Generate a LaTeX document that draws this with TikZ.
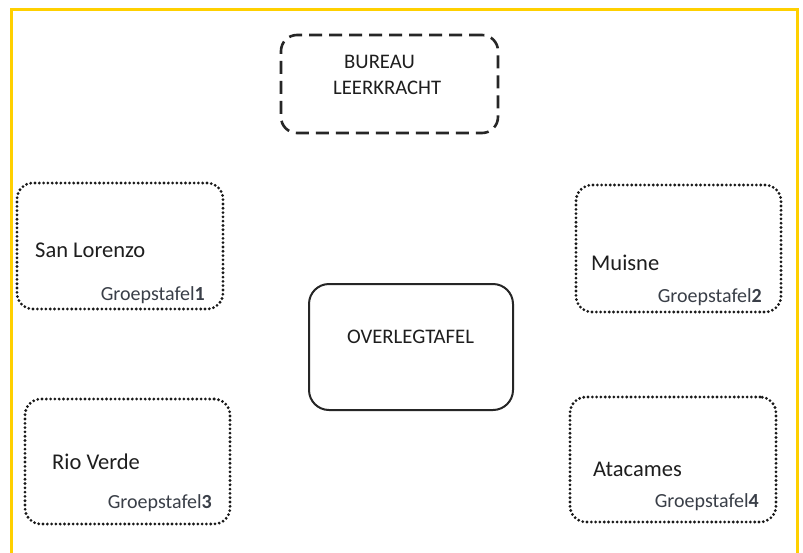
\documentclass[tikz,border=0pt]{standalone}
\usepackage{fontspec}
\setmainfont{Carlito}
\definecolor{frameyellow}{HTML}{FFD000}
\definecolor{txt}{HTML}{1E1E1E}
\definecolor{gtxt}{HTML}{3A3F48}
\begin{document}
\begin{tikzpicture}[x=1pt,y=-1pt,
  tablebox/.style={draw=black!85, rounded corners=16pt, inner sep=0pt, outer sep=0pt},
  dotbox/.style={tablebox, draw=black!90, line width=3.1pt, line cap=round, dash pattern=on 0pt off 4.3pt},
  dashbox/.style={tablebox, line width=2.6pt, dash pattern=on 13pt off 7pt},
  solidbox/.style={tablebox, line width=2pt, rounded corners=20pt},
  placelbl/.style={anchor=west, inner sep=0pt, font=\fontsize{22.5}{26}\selectfont, text=txt},
  grplbl/.style={anchor=east, inner sep=0pt, font=\fontsize{20}{23}\selectfont, text=gtxt},
  capslbl/.style={anchor=west, inner sep=0pt, font=\fontsize{20.7}{24}\selectfont, text=txt}]
\useasboundingbox (0,0) rectangle (803,552);
\fill[white] (0,0) rectangle (803,552);
\draw[frameyellow, line width=3pt] (11,600) -- (11,9.5) -- (797.5,9.5) -- (797.5,600);

% boxes
\node[dashbox, minimum width=217pt, minimum height=98pt] (bureau) at (389.5,84) {};
\node[dotbox, minimum width=206pt, minimum height=126pt] (t1) at (120,246) {};
\node[dotbox, minimum width=205pt, minimum height=127pt] (t2) at (678.5,248.5) {};
\node[solidbox, minimum width=204pt, minimum height=126pt] (overleg) at (411,347) {};
\node[dotbox, minimum width=205pt, minimum height=125pt] (t3) at (127.5,461.5) {};
\node[dotbox, minimum width=206pt, minimum height=125pt] (t4) at (673,459.5) {};

% texts
\node[capslbl] (b1) at (344,62) {BUREAU};
\node[capslbl] (b2) at (333,88) {LEERKRACHT};
\node[capslbl] (ov) at (347,337) {OVERLEGTAFEL};

\node[placelbl] (sl) at (35,250) {San Lorenzo};
\node[grplbl] (g1) at (205,295) {Groepstafel\textbf{1}};
\node[placelbl] (mu) at (591,263) {Muisne};
\node[grplbl] (g2) at (762,297) {Groepstafel\textbf{2}};
\node[placelbl] (rv) at (52,462) {Rio Verde};
\node[grplbl] (g3) at (212,503) {Groepstafel\textbf{3}};
\node[placelbl] (at) at (593,469) {Atacames};
\node[grplbl] (g4) at (759,502) {Groepstafel\textbf{4}};
\end{tikzpicture}
\end{document}
